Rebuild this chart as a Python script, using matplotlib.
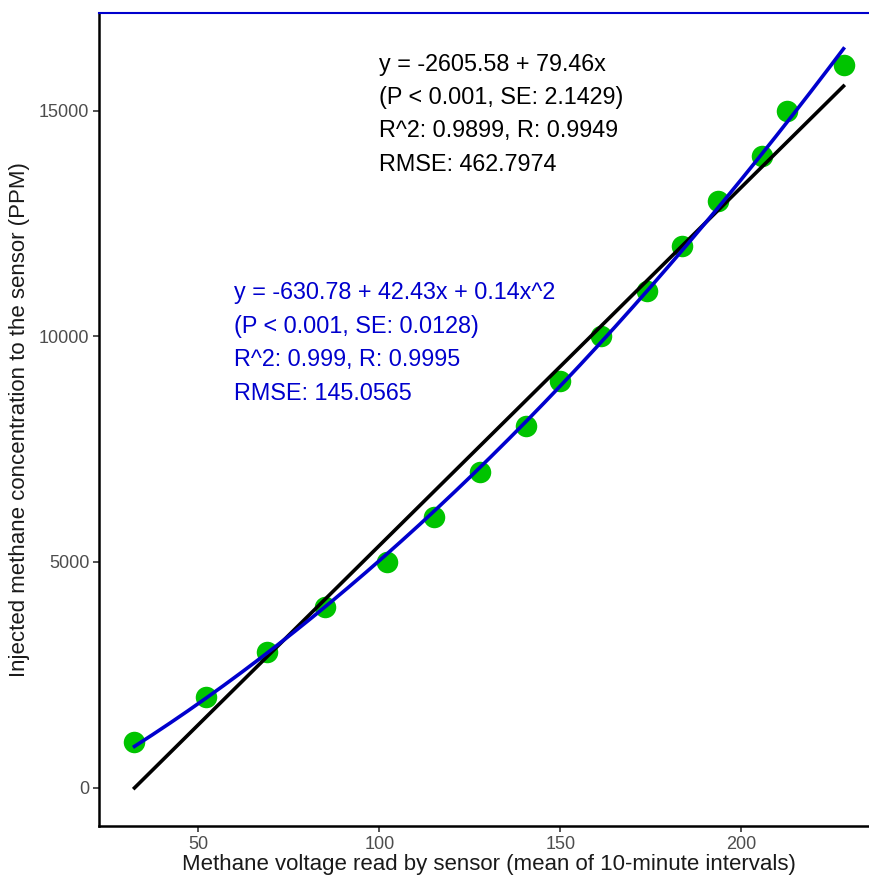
import matplotlib.pyplot as plt
import numpy as np

plt.rcParams["font.family"] = ["Liberation Sans", "DejaVu Sans"]

# sensor reading (mean of 10-minute intervals) vs injected concentration
voltage = [32.4, 52.2, 69.0, 85.0, 102.1, 115.0, 127.7, 140.4, 150.0,
           161.3, 173.9, 183.7, 193.5, 205.6, 212.5, 228.2]
ppm = [1000, 2000, 3000, 4000, 5000, 6000, 7000, 8000, 9000,
       10000, 11000, 12000, 13000, 14000, 15000, 16000]

linear_label = ["y = -2605.58 + 79.46x", "(P < 0.001, SE: 2.1429)",
                "R^2: 0.9899, R: 0.9949", "RMSE: 462.7974"]
quad_label = ["y = -630.78 + 42.43x + 0.14x^2", "(P < 0.001, SE: 0.0128)",
              "R^2: 0.999, R: 0.9995", "RMSE: 145.0565"]

x = np.array(voltage)
y = np.array(ppm)

fig = plt.figure(figsize=(8.69, 8.77), dpi=100)
ax = fig.add_axes([99 / 869, 1 - 826 / 877, 780 / 869, 813 / 877])

ax.scatter(x, y, s=240, color="#00C400", zorder=2, linewidths=0)

lin = np.polyfit(x, y, 1)
xs = np.linspace(x.min(), x.max(), 200)
ax.plot(xs, np.polyval(lin, xs), color="black", lw=2.6, zorder=3)

quad = np.polyfit(x, y, 2)
ax.plot(xs, np.polyval(quad, xs), color="#0000CD", lw=2.6, zorder=4)

ax.set_xlim(22.6, 238.0)
ax.set_ylim(-850, 17160)
ax.set_xticks([50, 100, 150, 200])
ax.set_yticks([0, 5000, 10000, 15000])

for side in ["top", "right"]:
    ax.spines[side].set_color("#0000CD")
    ax.spines[side].set_linewidth(1.5)
for side in ["left", "bottom"]:
    ax.spines[side].set_color("black")
    ax.spines[side].set_linewidth(1.8)

ax.tick_params(axis="both", colors="#333333", labelcolor="#4D4D4D",
               labelsize=13, length=4, width=1.2, pad=3)

ax.set_xlabel("Methane voltage read by sensor (mean of 10-minute intervals)",
              fontsize=16, color="#1A1A1A", labelpad=1)
ax.set_ylabel("Injected methane concentration to the sensor (PPM)",
              fontsize=16, color="#1A1A1A", labelpad=6)

for i, t in enumerate(linear_label):
    ax.text(100, 16030 - i * 740, t, fontsize=16.8, color="black",
            va="center", ha="left")
for i, t in enumerate(quad_label):
    ax.text(60, 10960 - i * 740, t, fontsize=16.8, color="#0000CD",
            va="center", ha="left")

fig.savefig("out.png", dpi=100)
